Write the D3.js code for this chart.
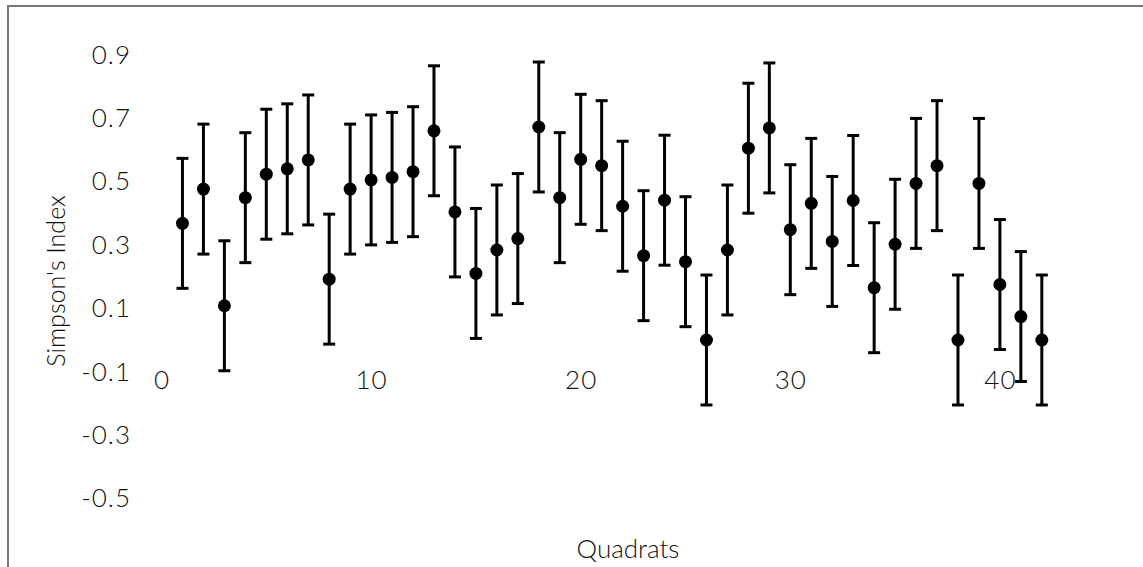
<!DOCTYPE html>
<html>
<head>
<meta charset="utf-8">
<script src="https://cdn.jsdelivr.net/npm/d3@7/dist/d3.min.js"></script>
<style>
  html, body { margin: 0; padding: 0; background: #fff; }
  svg { display: block; }
  text { font-family: Lato, "Open Sans", sans-serif; fill: #111; font-weight: 300; }
</style>
</head>
<body>
<svg id="chart" width="1143" height="567"></svg>
<script>
// ---- data ----
const quadrats = [1,2,3,4,5,6,7,8,9,10,11,12,13,14,15,16,17,18,19,20,21,22,23,24,25,26,27,28,29,30,31,32,33,34,35,36,37,38,39,40,41,42];
const simpson = [0.368,0.476,0.108,0.449,0.523,0.540,0.568,0.192,0.476,0.505,0.513,0.531,0.660,
                 0.404,0.210,0.284,0.320,0.672,0.449,0.570,0.550,0.422,0.266,0.441,0.247,0.000,0.284,
                 0.605,0.669,0.348,0.431,0.311,0.440,0.165,0.302,0.494,0.550,0.000,0.494,0.175,0.074,0.000];
const errors = [0.205,0.205,0.205,0.205,0.205,0.205,0.205,0.205,0.205,0.205,0.205,0.205,0.205,
                0.205,0.205,0.205,0.205,0.205,0.205,0.205,0.205,0.205,0.205,0.205,0.205,0.205,0.205,
                0.205,0.205,0.205,0.205,0.205,0.205,0.205,0.205,0.205,0.205,0.205,0.205,0.205,0.205,0.205];
const xTicks = [0,10,20,30,40];
const yTicks = [-0.5,-0.3,-0.1,0.1,0.3,0.5,0.7,0.9];
const xTitle = "Quadrats";
const yTitle = "Simpson's Index";

// ---- layout ----
const svg = d3.select("#chart");
const x = d3.scaleLinear().domain([0, 45]).range([161.5, 161.5 + 45 * 20.96]);
const y = d3.scaleLinear().domain([-0.5, 0.9]).range([340 + 0.5 * 317, 340 - 0.9 * 317]);

// outer border
svg.append("rect")
  .attr("x", 8).attr("y", 6).attr("width", 1200).attr("height", 700)
  .attr("fill", "none").attr("stroke", "#777").attr("stroke-width", 2);

const tickFont = "26px";

// y axis
const yAxis = svg.append("g")
  .attr("transform", "translate(140,0)")
  .call(d3.axisLeft(y).tickValues(yTicks).tickSize(0).tickPadding(9)
        .tickFormat(d => d3.format(".1f")(d).replace("−", "-")));
yAxis.select(".domain").remove();
yAxis.selectAll("text").style("font-size", tickFont).style("letter-spacing", "1px")
  .style("font-family", "Lato, sans-serif").style("font-weight", 300).attr("fill", "#111");

// x axis (labels only)
const xAxis = svg.append("g")
  .attr("transform", `translate(0,${y(-0.1)})`)
  .call(d3.axisBottom(x).tickValues(xTicks).tickSize(0).tickFormat(d3.format("d")));
xAxis.select(".domain").remove();
xAxis.selectAll("text").attr("y", 9).attr("dy", "0.32em")
  .style("font-size", tickFont).style("letter-spacing", "1px")
  .style("font-family", "Lato, sans-serif").style("font-weight", 300).attr("fill", "#111");

// error bars
const capW = 6;
const g = svg.append("g");
const data = quadrats.map((q, i) => ({ q, v: simpson[i], e: errors[i] }));
g.selectAll("line.stem").data(data).join("line")
  .attr("class", "stem")
  .attr("x1", d => x(d.q)).attr("x2", d => x(d.q))
  .attr("y1", d => y(d.v - d.e)).attr("y2", d => y(d.v + d.e))
  .attr("stroke", "#000").attr("stroke-width", 3);
g.selectAll("line.capTop").data(data).join("line")
  .attr("class", "capTop")
  .attr("x1", d => x(d.q) - capW).attr("x2", d => x(d.q) + capW)
  .attr("y1", d => y(d.v + d.e)).attr("y2", d => y(d.v + d.e))
  .attr("stroke", "#000").attr("stroke-width", 3);
g.selectAll("line.capBot").data(data).join("line")
  .attr("class", "capBot")
  .attr("x1", d => x(d.q) - capW).attr("x2", d => x(d.q) + capW)
  .attr("y1", d => y(d.v - d.e)).attr("y2", d => y(d.v - d.e))
  .attr("stroke", "#000").attr("stroke-width", 3);

// markers
g.selectAll("circle").data(data).join("circle")
  .attr("cx", d => x(d.q)).attr("cy", d => y(d.v)).attr("r", 6.5)
  .attr("fill", "#000");

// titles
svg.append("text")
  .attr("x", 628).attr("y", 549).attr("dy", "0.35em")
  .attr("text-anchor", "middle").style("font-size", "26px")
  .text(xTitle);
svg.append("text")
  .attr("transform", "translate(56,281) rotate(-90)")
  .attr("dy", "0.35em")
  .attr("text-anchor", "middle").style("font-size", "25px")
  .text(yTitle);
</script>
</body>
</html>
